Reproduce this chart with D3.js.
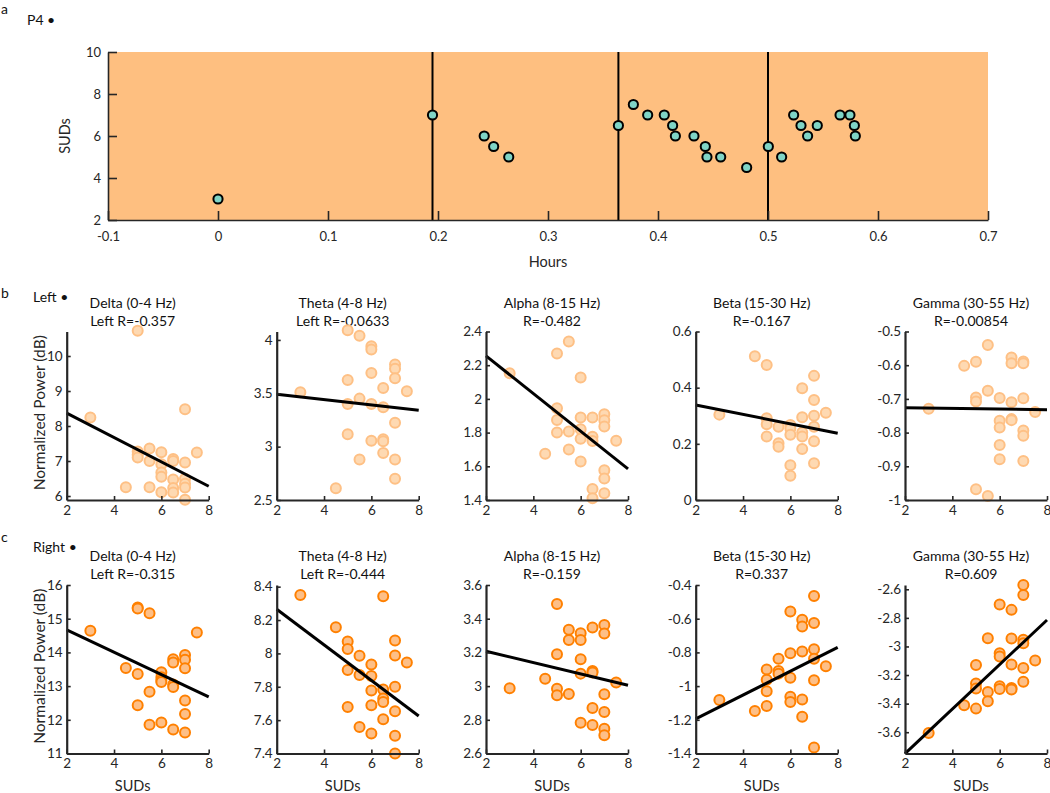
<!DOCTYPE html>
<html><head><meta charset="utf-8">
<script src="https://cdn.jsdelivr.net/npm/d3@7"></script>
<style>body{margin:0;background:#fff} svg{font-family:Lato, "Liberation Sans", sans-serif}</style>
</head><body><svg id="c" width="1050" height="793"></svg>
<script>
// ---------------- DATA ----------------
// Panel a: SUDs over time (hours)
const hours = [0, 0.195, 0.242, 0.2506, 0.2643, 0.364, 0.3776, 0.3906, 0.4057, 0.4133, 0.4158, 0.4327, 0.443, 0.4445, 0.457, 0.4806, 0.5003, 0.5124, 0.5233, 0.53, 0.536, 0.5448, 0.5655, 0.5745, 0.5785, 0.5794];
const sudsOverTime = [3, 7, 6, 5.5, 5, 6.5, 7.5, 7, 7, 6.5, 6, 6, 5.5, 5, 5, 4.5, 5.5, 5, 7, 6.5, 6, 6.5, 7, 7, 6.5, 6];
const sessionBoundaries = [0.195, 0.364, 0.5];
const hourTicks = [-0.1, 0, 0.1, 0.2, 0.3, 0.4, 0.5, 0.6, 0.7];
const sudTicks = [2, 4, 6, 8, 10];

// Panels b/c
const bandNames = ["Delta (0-4 Hz)", "Theta (4-8 Hz)", "Alpha (8-15 Hz)", "Beta (15-30 Hz)", "Gamma (30-55 Hz)"];
const leftRLabels = ["Left R=-0.357", "Left R=-0.0633", "R=-0.482", "R=-0.167", "R=-0.00854"];
const rightRLabels = ["Left R=-0.315", "Left R=-0.444", "R=-0.159", "R=0.337", "R=0.609"];
const scatterXTicks = [2, 4, 6, 8];

// [SUDs, normalized power]
const leftDelta = [[3,8.24],[5,10.72],[7,8.48],[7.5,7.24],[5,7.27],[5,7.18],[5,7.1],[5.5,7.36],[5.5,7.0],[6,7.25],[6,6.91],[6,6.67],[6,6.55],[6,6.11],[6.5,7.06],[6.5,7.0],[6.5,6.47],[6.5,6.23],[6.5,6.1],[7,6.96],[7,6.49],[7,6.35],[7,6.24],[7,5.89],[4.5,6.25],[5.5,6.25]];
const leftTheta = [[3,3.51],[5,4.09],[5,3.625],[5,3.40],[5,3.116],[5.5,4.04],[5.5,3.45],[5.5,2.88],[4.5,2.61],[6,3.94],[6,3.91],[6,3.69],[6,3.40],[6,3.056],[6.5,3.55],[6.5,3.37],[6.5,3.07],[6.5,3.05],[6.5,2.94],[7,3.77],[7,3.73],[7,3.64],[7,3.225],[7,2.88],[7,2.70],[7.5,3.52]];
const leftAlpha = [[3,2.152],[5.5,2.34],[5,2.27],[6,2.127],[5,1.945],[5,1.875],[5,1.80],[5.5,1.806],[5.5,1.70],[4.5,1.675],[6,1.889],[6,1.82],[6,1.764],[6,1.628],[6.5,1.889],[6.5,1.776],[6.5,1.75],[6.5,1.465],[6.5,1.41],[7,1.909],[7,1.873],[7,1.836],[7,1.576],[7,1.527],[7,1.44],[7.5,1.752]];
const leftBeta = [[3,0.304],[4.5,0.512],[5,0.481],[5,0.291],[5,0.270],[5,0.226],[5.5,0.261],[5.5,0.202],[5.5,0.19],[6,0.267],[6,0.255],[6,0.232],[6,0.124],[6,0.086],[6.5,0.398],[6.5,0.295],[6.5,0.24],[6.5,0.226],[6.5,0.182],[7,0.442],[7,0.356],[7,0.30],[7,0.261],[7,0.209],[7,0.131],[7.5,0.311]];
const leftGamma = [[3,-0.729],[4.5,-0.602],[5,-0.59],[5,-0.696],[5,-0.708],[5,-0.968],[5.5,-0.54],[5.5,-0.676],[5.5,-0.988],[6,-0.697],[6,-0.765],[6,-0.785],[6,-0.837],[6,-0.879],[6.5,-0.577],[6.5,-0.594],[6.5,-0.71],[6.5,-0.76],[6.5,-0.763],[7,-0.589],[7,-0.594],[7,-0.698],[7,-0.794],[7,-0.809],[7,-0.884],[7.5,-0.739]];

const rightDelta = [[3,14.64],[5,15.33],[5,15.3],[5,13.36],[5,12.43],[4.5,13.54],[5.5,15.16],[5.5,12.83],[5.5,11.85],[6,13.41],[6,13.26],[6,13.17],[6,13.12],[6,11.92],[6.5,13.8],[6.5,13.7],[6.5,13.05],[6.5,12.97],[6.5,11.71],[7,13.92],[7,13.78],[7,13.53],[7,12.57],[7,12.17],[7,11.62],[7.5,14.59]];
const rightTheta = [[3,8.35],[6.5,8.342],[4.5,8.157],[5,8.071],[5,8.027],[5,7.90],[5,7.679],[5.5,7.986],[5.5,7.87],[5.5,7.559],[6,7.934],[6,7.864],[6,7.778],[6,7.689],[6,7.52],[6.5,7.784],[6.5,7.729],[6.5,7.709],[6.5,7.605],[7,8.077],[7,7.988],[7,7.80],[7,7.653],[7,7.506],[7,7.40],[7.5,7.946]];
const rightAlpha = [[3,2.987],[4.5,3.044],[5,3.487],[5,3.189],[5,2.985],[5,2.945],[5.5,3.334],[5.5,3.273],[5.5,2.953],[6,3.314],[6,3.273],[6,3.16],[6,3.074],[6,2.782],[6.5,3.348],[6.5,3.09],[6.5,3.08],[6.5,2.87],[6.5,2.769],[7,3.362],[7,3.312],[7,2.951],[7,2.846],[7,2.747],[7,2.709],[7.5,3.021]];
const rightBeta = [[3,-1.083],[4.5,-1.148],[5,-0.902],[5,-0.963],[5,-1.031],[5,-1.118],[5.5,-0.838],[5.5,-0.91],[5.5,-0.926],[6,-0.557],[6,-0.805],[6,-0.95],[6,-1.063],[6,-1.094],[6.5,-0.606],[6.5,-0.646],[6.5,-0.795],[6.5,-1.08],[6.5,-1.182],[7,-0.465],[7,-0.626],[7,-0.781],[7,-0.837],[7,-0.965],[7,-1.364],[7.5,-0.882]];
const rightGamma = [[3,-3.605],[4.5,-3.412],[5,-3.13],[5,-3.26],[5,-3.295],[5,-3.435],[5.5,-2.942],[5.5,-3.319],[5.5,-3.384],[6,-2.707],[6,-3.047],[6,-3.07],[6,-3.279],[6,-3.298],[6.5,-2.744],[6.5,-2.944],[6.5,-3.126],[6.5,-3.29],[6.5,-3.302],[7,-2.57],[7,-2.64],[7,-2.953],[7,-2.977],[7,-3.151],[7,-3.247],[7.5,-3.098]];

// Least-squares fit line values at SUDs = 2 and SUDs = 8
const leftFits = [[8.37, 6.28], [3.49, 3.34], [2.255, 1.585], [0.338, 0.238], [-0.726, -0.732]];
const rightFits = [[14.67, 12.68], [8.265, 7.625], [3.207, 3.005], [-1.195, -0.77], [-3.75, -2.815]];

// Y axis limits and ticks per panel
const leftYDomains = [[5.886, 10.70], [2.5, 4.079], [1.4, 2.4], [0, 0.6], [-1, -0.5]];
const leftYTicks = [[6,7,8,9,10],[2.5,3,3.5,4],[1.4,1.6,1.8,2,2.2,2.4],[0,0.2,0.4,0.6],[-1,-0.9,-0.8,-0.7,-0.6,-0.5]];
const rightYDomains = [[11, 16], [7.4, 8.41], [2.6, 3.6], [-1.4, -0.4], [-3.749, -2.57]];
const rightYTicks = [[11,12,13,14,15,16],[7.4,7.6,7.8,8,8.2,8.4],[2.6,2.8,3,3.2,3.4,3.6],[-1.4,-1.2,-1,-0.8,-0.6,-0.4],[-3.6,-3.4,-3.2,-3,-2.8,-2.6]];

const leftData = [leftDelta, leftTheta, leftAlpha, leftBeta, leftGamma];
const rightData = [rightDelta, rightTheta, rightAlpha, rightBeta, rightGamma];

// ---------------- DRAW ----------------
const svg = d3.select("#c");
const AX = "#262626";
const fmt = v => String(+v.toFixed(3));

// labels a/b/c
function label(x, y, t, size) {
  svg.append("text").attr("x", x).attr("y", y).attr("font-size", size).attr("fill", "#111").text(t);
}
label(1, 14, "a", 14);
label(27, 25, "P4 \u2022", 14);
label(1, 298, "b", 14);
label(33, 302, "Left \u2022", 14);
label(1, 542, "c", 14);
label(33, 552, "Right \u2022", 14);

// ---- panel a ----
const xT = d3.scaleLinear().domain([-0.1, 0.7]).range([108, 988]);
const yT = d3.scaleLinear().domain([2, 10]).range([220, 52]);
const gA = svg.append("g");
gA.append("rect").attr("x", xT(-0.1)).attr("y", yT(10)).attr("width", xT(0.7) - xT(-0.1)).attr("height", yT(2) - yT(10)).attr("fill", "#FEBF80");
gA.selectAll("line.sess").data(sessionBoundaries).join("line").attr("class","sess")
  .attr("x1", d => xT(d)).attr("x2", d => xT(d)).attr("y1", yT(10)).attr("y2", yT(2))
  .attr("stroke", "#000").attr("stroke-width", 2);
const axA = gA.append("g").attr("transform", `translate(0,${yT(2)})`)
  .call(d3.axisBottom(xT).tickValues(hourTicks).tickFormat(fmt).tickSizeInner(-9).tickSizeOuter(0).tickPadding(12));
const ayA = gA.append("g").attr("transform", `translate(${xT(-0.1)},0)`)
  .call(d3.axisLeft(yT).tickValues(sudTicks).tickFormat(fmt).tickSizeInner(-9).tickSizeOuter(0).tickPadding(7));
[axA, ayA].forEach(a => {
  a.select(".domain").attr("stroke", AX).attr("stroke-width", 1.6);
  a.selectAll(".tick line").attr("stroke", AX).attr("stroke-width", 1.6);
  a.selectAll(".tick text").attr("fill", AX).attr("font-size", 13).attr("font-family", "Lato, sans-serif");
});
gA.selectAll("circle.pt").data(hours.map((h, i) => [h, sudsOverTime[i]])).join("circle").attr("class","pt")
  .attr("cx", d => xT(d[0])).attr("cy", d => yT(d[1])).attr("r", 4.6)
  .attr("fill", "#7FD4C6").attr("stroke", "#000").attr("stroke-width", 2);
gA.append("text").attr("x", (xT(-0.1)+xT(0.7))/2 + 0).attr("y", 267).attr("text-anchor", "middle").attr("font-size", 14.5).attr("fill", AX).text("Hours");
gA.append("text").attr("transform", `translate(70,${(yT(2)+yT(10))/2}) rotate(-90)`).attr("text-anchor", "middle").attr("font-size", 14.5).attr("fill", AX).text("SUDs");

// ---- scatter rows ----
const panelLeft = [66.7, 276.7, 486, 695.7, 905];
const panelW = 142;

function drawRow(data, fits, domains, ticks, rLabels, yRange, titleY, style, showXLabel) {
  data.forEach((pts, i) => {
    const x = d3.scaleLinear().domain([2, 8]).range([panelLeft[i], panelLeft[i] + panelW]);
    const y = d3.scaleLinear().domain(domains[i]).range(yRange);
    const g = svg.append("g");
    const cx = (panelLeft[i] + panelW / 2) - 5;
    g.append("text").attr("x", cx).attr("y", titleY).attr("text-anchor", "middle").attr("font-size", 14).attr("fill", "#111").text(bandNames[i]);
    g.append("text").attr("x", cx).attr("y", titleY + 18).attr("text-anchor", "middle").attr("font-size", 14).attr("fill", "#111").text(rLabels[i]);
    g.selectAll("circle").data(pts).join("circle")
      .attr("cx", d => x(d[0])).attr("cy", d => y(d[1])).attr("r", 5)
      .attr("fill", style.fill).attr("stroke", style.stroke).attr("stroke-width", 2);
    g.append("line").attr("x1", x(2)).attr("x2", x(8)).attr("y1", y(fits[i][0])).attr("y2", y(fits[i][1]))
      .attr("stroke", "#000").attr("stroke-width", 3);
    const ax = g.append("g").attr("transform", `translate(0,${yRange[0]})`)
      .call(d3.axisBottom(x).tickValues(scatterXTicks).tickFormat(fmt).tickSizeInner(-4).tickSizeOuter(0).tickPadding(5));
    const ay = g.append("g").attr("transform", `translate(${panelLeft[i]},0)`)
      .call(d3.axisLeft(y).tickValues(ticks[i]).tickFormat(fmt).tickSizeInner(-4).tickSizeOuter(0).tickPadding(4));
    [ax, ay].forEach(a => {
      a.select(".domain").attr("stroke", AX).attr("stroke-width", 2.2);
      a.selectAll(".tick line").attr("stroke", AX).attr("stroke-width", 1.6);
      a.selectAll(".tick text").attr("fill", AX).attr("font-size", 13.5).attr("font-family", "Lato, sans-serif");
    });
    if (i === 0) {
      g.append("text").attr("transform", `translate(45,${(yRange[0] + yRange[1]) / 2 - 3}) rotate(-90)`)
        .attr("text-anchor", "middle").attr("font-size", 15.5).attr("fill", AX).text("Normalized Power (dB)");
    }
    if (showXLabel) {
      g.append("text").attr("x", cx).attr("y", 791).attr("text-anchor", "middle").attr("font-size", 14.5).attr("fill", AX).text("SUDs");
    }
  });
}

drawRow(leftData, leftFits, leftYDomains, leftYTicks, leftRLabels, [500, 331.5], 308,
  {fill: "#FED9B2", stroke: "#FEC085"}, false);
drawRow(rightData, rightFits, rightYDomains, rightYTicks, rightRLabels, [753.5, 585], 560.5,
  {fill: "#FDBF87", stroke: "#FF8000"}, true);
</script></body></html>
